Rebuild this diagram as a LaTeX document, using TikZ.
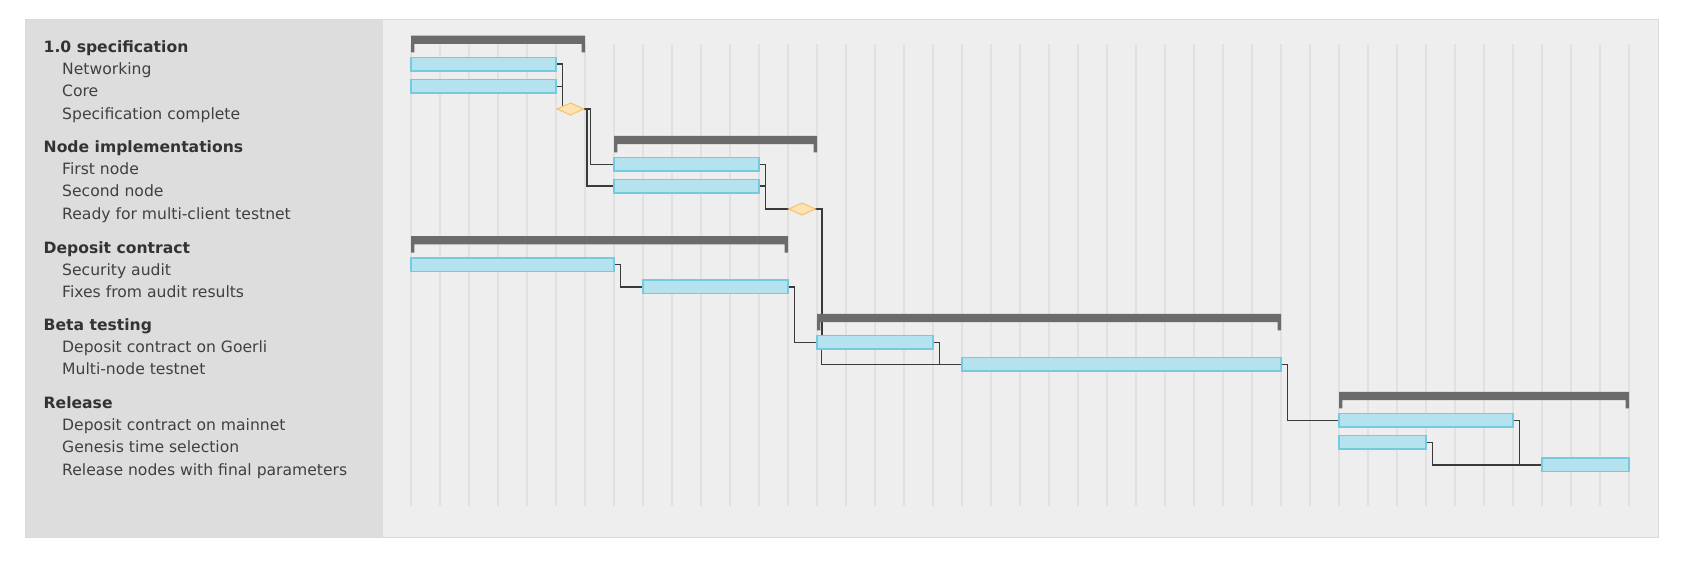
\documentclass[tikz,border=0pt]{standalone}
\usepackage{fontspec}
\setmainfont{DejaVu Sans}
\usetikzlibrary{shapes.geometric}
\definecolor{leftbg}{HTML}{DDDDDD}
\definecolor{rightbg}{HTML}{EEEEEE}
\definecolor{panelborder}{HTML}{DADADA}
\definecolor{gridc}{HTML}{E1E1E1}
\definecolor{taskfill}{HTML}{B4E3EF}
\definecolor{taskline}{HTML}{74CADF}
\definecolor{sumc}{HTML}{6B6B6B}
\definecolor{msfill}{HTML}{FDE2B3}
\definecolor{msline}{HTML}{F6C677}
\definecolor{linkc}{HTML}{3A3A3A}
\definecolor{txt}{HTML}{404040}
\definecolor{hdrtxt}{HTML}{333333}
\pgfdeclarelayer{background}
\pgfdeclarelayer{links}
\pgfsetlayers{background,links,main}
\tikzset{
  task/.style={draw=taskline, fill=taskfill, line width=1.5pt, minimum height=13.5pt, inner sep=0pt, outer sep=0pt, anchor=west},
  milestone/.style={diamond, draw=msline, fill=msfill, line width=1.2pt, minimum width=26.5pt, minimum height=12pt, inner sep=0pt, outer sep=0pt},
  link/.style={draw=linkc, line width=1.5pt},
  lbl/.style={anchor=base west, inner sep=0pt, text=txt, font=\fontsize{15.6}{18}\selectfont},
  hdr/.style={anchor=base west, inner sep=0pt, text=hdrtxt, font=\fontsize{15.6}{18}\selectfont\bfseries},
  gridline/.style={draw=gridc, line width=1.2pt},
  sumbar/.style={fill=sumc},
}
\newcommand\ganttsum[3]{\fill[sumbar] (#1,#3) rectangle (#2,#3+8.2) (#1,#3+8) rectangle ({#1+3.4},#3+16.6) ({#2-3.4},#3+8) rectangle (#2,#3+16.6);}
\begin{document}
\begin{tikzpicture}[x=1pt,y=-1pt]
\useasboundingbox (0,0) rectangle (1692,560);
\begin{pgfonlayer}{background}
  \fill[white] (0,0) rectangle (1692,560);
  \fill[rightbg, draw=panelborder, line width=1pt] (25,19) rectangle (1658,537);
  \fill[leftbg] (25.5,19.5) rectangle (383,536.5);
  \foreach \k in {0,...,42} {
    \draw[gridline] ({411+29*\k},44) -- ({411+29*\k},506);
  }
\end{pgfonlayer}

% labels
\node[hdr] (h1) at (43.5,52.5) {1.0 specification};
\node[lbl] (l1) at (62,74.7) {Networking};
\node[lbl] (l2) at (62,96.8) {Core};
\node[lbl] (l3) at (62,119.5) {Specification complete};
\node[hdr] (h2) at (43.5,152.8) {Node implementations};
\node[lbl] (l4) at (62,174.8) {First node};
\node[lbl] (l5) at (62,196.5) {Second node};
\node[lbl] (l6) at (62,219.5) {Ready for multi-client testnet};
\node[hdr] (h3) at (43.5,253.1) {Deposit contract};
\node[lbl] (l7) at (62,275.1) {Security audit};
\node[lbl] (l8) at (62,297.3) {Fixes from audit results};
\node[hdr] (h4) at (43.5,330.8) {Beta testing};
\node[lbl] (l9) at (62,352.8) {Deposit contract on Goerli};
\node[lbl] (l10) at (62,374.8) {Multi-node testnet};
\node[hdr] (h5) at (43.5,408.8) {Release};
\node[lbl] (l11) at (62,430.8) {Deposit contract on mainnet};
\node[lbl] (l12) at (62,452.8) {Genesis time selection};
\node[lbl] (l13) at (62,475.3) {Release nodes with final parameters};

% summary bars
\ganttsum{411}{585}{35.7}
\ganttsum{614}{817}{135.8}
\ganttsum{411}{788}{236.1}
\ganttsum{817}{1281}{313.8}
\ganttsum{1339}{1629}{391.8}

% tasks
\node[task, minimum width=145pt] (net) at (411,64.2) {};
\node[task, minimum width=145pt] (core) at (411,86.3) {};
\node[milestone] (ms1) at (570.5,109) {};
\node[task, minimum width=145pt] (first) at (614,164.3) {};
\node[task, minimum width=145pt] (second) at (614,186) {};
\node[milestone] (ms2) at (802,209) {};
\node[task, minimum width=203pt] (audit) at (411,264.6) {};
\node[task, minimum width=145pt] (fixes) at (643,286.8) {};
\node[task, minimum width=116pt] (goerli) at (817,342.3) {};
\node[task, minimum width=319pt] (multi) at (962,364.3) {};
\node[task, minimum width=174pt] (mainnet) at (1339,420.3) {};
\node[task, minimum width=87pt] (genesis) at (1339,442.3) {};
\node[task, minimum width=87pt] (relnodes) at (1542,464.8) {};

% connectors
\begin{pgfonlayer}{links}
  \draw[link] (net.east) -- ++(6.5,0) |- (ms1.west);
  \draw[link] (core.east) -- ++(6.5,0) |- (ms1.west);
  \draw[link] (ms1.east) -- ++(6.7,0) |- (first.west);
  \draw[link] (ms1.east) -- ++(3.2,0) |- (second.west);
  \draw[link] (first.east) -- ++(6.5,0) |- (ms2.west);
  \draw[link] (second.east) -- ++(6.5,0) |- (ms2.west);
  \draw[link] (ms2.east) -- ++(6.7,0) |- (goerli.west);
  \draw[link] (ms2.east) -- ++(6,0) |- (multi.west);
  \draw[link] (audit.east) -- ++(6.5,0) |- (fixes.west);
  \draw[link] (fixes.east) -- ++(6.5,0) |- (goerli.west);
  \draw[link] (goerli.east) -- ++(6.5,0) |- (multi.west);
  \draw[link] (multi.east) -- ++(6.5,0) |- (mainnet.west);
  \draw[link] (mainnet.east) -- ++(6.5,0) |- (relnodes.west);
  \draw[link] (genesis.east) -- ++(6.5,0) |- (relnodes.west);
\end{pgfonlayer}
\end{tikzpicture}
\end{document}
